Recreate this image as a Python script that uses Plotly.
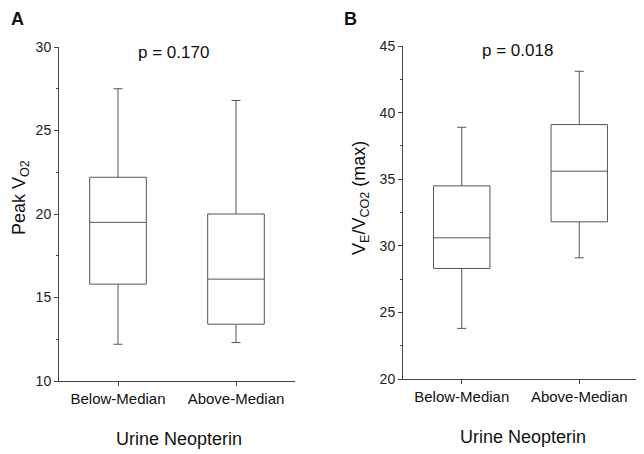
import plotly.graph_objects as go

categories = ["Below-Median", "Above-Median"]

# Panel A: Peak VO2
a_lower = [12.2, 12.3]
a_q1 = [15.8, 13.4]
a_median = [19.5, 16.1]
a_q3 = [22.2, 20.0]
a_upper = [27.5, 26.8]

# Panel B: VE/VCO2 (max)
b_lower = [23.8, 29.1]
b_q1 = [28.3, 31.8]
b_median = [30.6, 35.6]
b_q3 = [34.5, 39.1]
b_upper = [38.9, 43.1]

p_a = "p = 0.170"
p_b = "p = 0.018"

# page has an 8px body margin; the figure is sized to fill the rest of the window
OFF = 8
W, H = 644 - OFF, 454 - OFF
box_line = "#555555"
axis_col = "#444444"
txt = "#111111"
font_fam = "Liberation Sans, Arial, sans-serif"

fig = go.Figure()

def add_box(lo, q1, med, q3, up, xa, ya):
    fig.add_trace(go.Box(
        x=categories, lowerfence=lo, q1=q1, median=med, q3=q3, upperfence=up,
        xaxis=xa, yaxis=ya, width=0.48, whiskerwidth=0.16,
        line=dict(color=box_line, width=1), fillcolor="white",
        boxpoints=False, showlegend=False, hoverinfo="skip",
    ))

add_box(a_lower, a_q1, a_median, a_q3, a_upper, "x", "y")
add_box(b_lower, b_q1, b_median, b_q3, b_upper, "x2", "y2")

def px(x):
    return (x - OFF) / W

def py(y):
    return 1 - (y - OFF) / H

xcommon = dict(
    type="category", range=[-0.5, 1.5], showline=True, linecolor=axis_col, linewidth=1,
    ticks="outside", ticklen=4, tickcolor=axis_col, showgrid=False, zeroline=False,
    automargin=False, tickfont=dict(size=15, color=txt, family=font_fam),
)
ycommon = dict(
    showline=True, linecolor=axis_col, linewidth=1, ticks="outside", ticklen=4,
    tickcolor=axis_col, showgrid=False, zeroline=False, automargin=False,
    tickfont=dict(size=14, color="#222222", family=font_fam),
    minor=dict(dtick=2.5, ticks="outside", ticklen=2, tickcolor=axis_col),
)

def ann(text, x, y, size, angle=0):
    return dict(text=text, x=px(x), y=py(y), xref="paper", yref="paper", showarrow=False,
                xanchor="center", yanchor="middle", textangle=angle,
                font=dict(size=size, color=txt, family=font_fam))

fig.update_layout(
    width=W, height=H, margin=dict(l=0, r=0, t=0, b=0, autoexpand=False),
    paper_bgcolor="white", plot_bgcolor="white",
    font=dict(family=font_fam),
    xaxis=dict(domain=[px(59), px(295)], anchor="y", **xcommon),
    yaxis=dict(domain=[py(381), py(47)], anchor="x", range=[10, 30], dtick=5, **ycommon),
    xaxis2=dict(domain=[px(403), px(638)], anchor="y2", **xcommon),
    yaxis2=dict(domain=[py(379), py(46)], anchor="x2", range=[20, 45], dtick=5, **ycommon),
    annotations=[
        ann(p_a, 173, 53, 17),
        ann(p_b, 517, 51, 17),
        ann("<b>A</b>", 17, 19, 18),
        ann("<b>B</b>", 350, 19, 18),
        ann("Urine Neopterin", 179, 439, 18),
        ann("Urine Neopterin", 523, 437, 18),
        ann("Peak V<sub>O2</sub>", 20, 198, 18, -90),
        ann("V<sub>E</sub>/V<sub>CO2</sub> (max)", 360, 198, 18, -90),
    ],
)

fig.write_html("out.html")
